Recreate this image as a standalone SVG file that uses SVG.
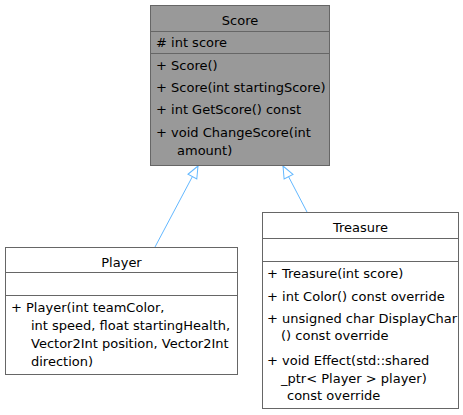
<svg xmlns="http://www.w3.org/2000/svg" width="463" height="415" viewBox="0 0 463 415">
<style>
text{font-family:"DejaVu Sans","Liberation Sans",sans-serif;font-size:13px;fill:#000}
.h{text-anchor:middle}
.box{stroke:#666666;stroke-width:1}
.gray{fill:#999999}
.white{fill:#ffffff}
.sep{stroke:#666666;stroke-width:1}
.edge{stroke:#63B8FF;stroke-width:1;fill:none}
</style>
<defs>
<marker id="inh" viewBox="-14 -7 16 14" markerWidth="16" markerHeight="14" refX="0" refY="0" orient="auto" markerUnits="userSpaceOnUse">
<path d="M0,0 L-12,-5 L-12,5 Z" fill="#ffffff" stroke="#63B8FF" stroke-width="1"/>
</marker>
</defs>
<rect width="463" height="415" fill="#ffffff"/>
<g id="connectors">
<path class="edge" d="M155,247 L198,166" marker-end="url(#inh)"/>
<path class="edge" d="M307,212 L283,166" marker-end="url(#inh)"/>
</g>
<g id="Score">
<rect class="box gray" x="150.5" y="5.5" width="179" height="160"/>
<line class="sep" x1="150.5" y1="31.5" x2="329.5" y2="31.5"/>
<line class="sep" x1="150.5" y1="53.5" x2="329.5" y2="53.5"/>
<text class="h" x="240" y="25">Score</text>
<text x="156" y="47"># int score</text>
<text x="156" y="70">+ Score()</text>
<text x="156" y="92">+ Score(int startingScore)</text>
<text x="156" y="114">+ int GetScore() const</text>
<text x="156" y="137">+ void ChangeScore(int</text>
<text x="177" y="155">amount)</text>
</g>
<g id="Player">
<rect class="box white" x="5.5" y="247.5" width="232" height="127"/>
<line class="sep" x1="5.5" y1="272.5" x2="237.5" y2="272.5"/>
<line class="sep" x1="5.5" y1="295.5" x2="237.5" y2="295.5"/>
<text class="h" x="121.5" y="267">Player</text>
<text x="11" y="312">+ Player(int teamColor,</text>
<text x="31" y="330">int speed, float startingHealth,</text>
<text x="31" y="348">Vector2Int position, Vector2Int</text>
<text x="31" y="366">direction)</text>
</g>
<g id="Treasure">
<rect class="box white" x="262.5" y="212.5" width="196" height="196"/>
<line class="sep" x1="262.5" y1="238.5" x2="458.5" y2="238.5"/>
<line class="sep" x1="262.5" y1="261.5" x2="458.5" y2="261.5"/>
<text class="h" x="360.5" y="232">Treasure</text>
<text x="267" y="278">+ Treasure(int score)</text>
<text x="267" y="301">+ int Color() const override</text>
<text x="267" y="323">+ unsigned char DisplayChar</text>
<text x="281" y="340">() const override</text>
<text x="267" y="365">+ void Effect(std::shared</text>
<text x="281" y="383">_ptr&lt; Player &gt; player)</text>
<text x="287" y="400">const override</text>
</g>
</svg>
